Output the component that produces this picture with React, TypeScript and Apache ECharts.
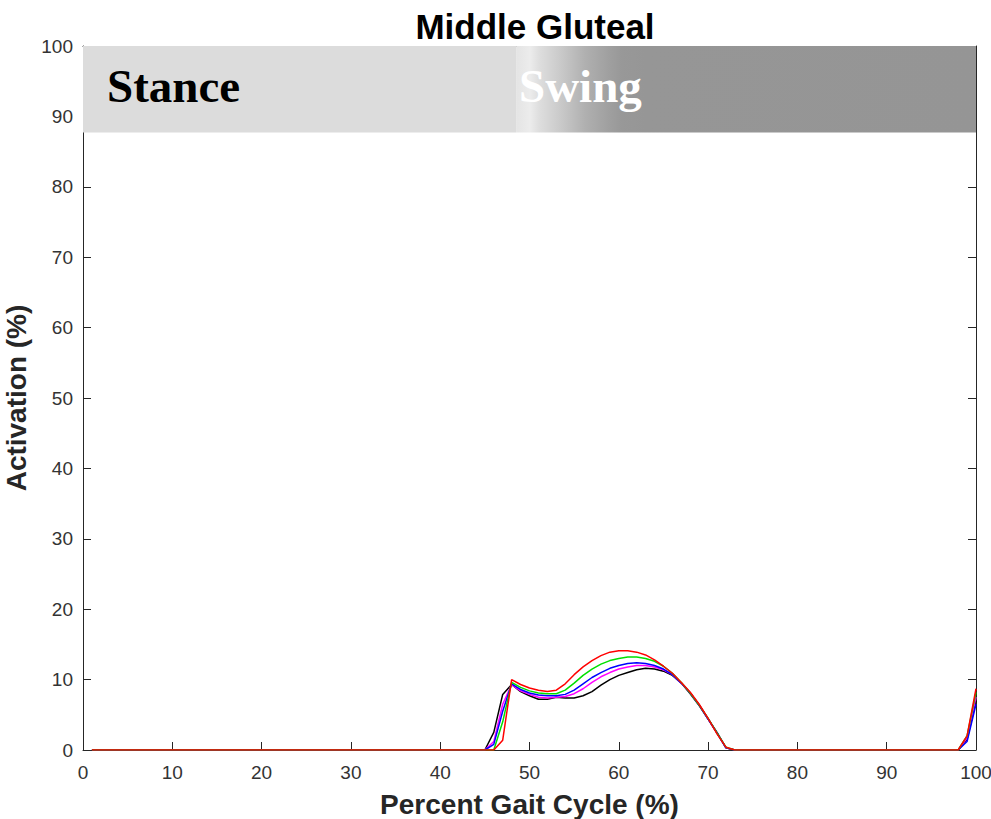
import React, { useEffect, useRef } from "react";
import * as echarts from "echarts";

const xTicks = [0, 10, 20, 30, 40, 50, 60, 70, 80, 90, 100];
const startX = 1;
const burstX = [44, 45, 46, 47, 48, 49, 50, 51, 52, 53, 54, 55, 56, 57, 58, 59, 60, 61, 62, 63, 64, 65, 66, 67, 68, 69, 70, 71, 72, 73];
const tailX = [98, 99, 100];

const blackBurst = [0, 0, 2.5, 7.9, 9.3, 8.3, 7.7, 7.2, 7.2, 7.5, 7.4, 7.4, 7.7, 8.3, 9.2, 10.0, 10.6, 11.0, 11.4, 11.6, 11.5, 11.2, 10.6, 9.5, 8.0, 6.3, 4.4, 2.5, 0.3, 0];
const magentaBurst = [0, 0, 1.2, 6.5, 9.3, 8.4, 7.9, 7.5, 7.4, 7.5, 7.6, 8.0, 8.7, 9.6, 10.4, 11.0, 11.5, 11.8, 12.0, 12.0, 11.8, 11.4, 10.7, 9.5, 8.1, 6.4, 4.4, 2.4, 0.3, 0];
const blueBurst = [0, 0, 0.8, 5.5, 9.4, 8.6, 8.1, 7.8, 7.7, 7.7, 7.9, 8.5, 9.4, 10.3, 11.0, 11.6, 12.0, 12.3, 12.4, 12.3, 12.0, 11.5, 10.7, 9.5, 8.1, 6.4, 4.4, 2.4, 0.3, 0];
const greenBurst = [0, 0, 0, 4.0, 9.6, 8.9, 8.4, 8.1, 8.0, 8.0, 8.5, 9.5, 10.6, 11.5, 12.2, 12.7, 13.0, 13.2, 13.2, 13.0, 12.6, 11.9, 10.9, 9.6, 8.1, 6.4, 4.5, 2.4, 0.4, 0];
const redBurst = [0, 0, 0, 1.4, 10.0, 9.3, 8.8, 8.5, 8.3, 8.5, 9.4, 10.7, 11.8, 12.7, 13.4, 13.9, 14.1, 14.1, 13.9, 13.5, 12.8, 11.9, 10.9, 9.6, 8.2, 6.5, 4.5, 2.3, 0.4, 0];

const blackTail = [0, 1.5, 7.0];
const magentaTail = [0, 1.7, 7.5];
const blueTail = [0, 1.2, 6.5];
const greenTail = [0, 2.0, 8.2];
const redTail = [0, 2.0, 8.7];

const seriesNames = ["Black", "Magenta", "Blue", "Green", "Red"];
const seriesColors = ["#000000", "#ff00ff", "#0000ff", "#00e000", "#ff0000"];
const burstValues = [blackBurst, magentaBurst, blueBurst, greenBurst, redBurst];
const tailValues = [blackTail, magentaTail, blueTail, greenTail, redTail];

const bandBottom = 87.7;
const stanceEnd = 48.5;

function buildPoints(burst: number[], tail: number[]) {
  const pts: number[][] = [[startX, 0]];
  burstX.forEach((x, i) => pts.push([x, burst[i]]));
  tailX.forEach((x, i) => pts.push([x, tail[i]]));
  return pts;
}

export default function App() {
  const ref = useRef<HTMLDivElement>(null);
  useEffect(() => {
    if (!ref.current) return;
    const chart = echarts.init(ref.current, null, { renderer: "svg" });
    const axisColor = "#262626";
    const tickLabelColor = "#333333";
    const fontFamily = "'Liberation Sans', Arial, sans-serif";
    const series: any[] = seriesNames.map((name, i) => ({
      name,
      type: "line",
      xAxisIndex: 0,
      yAxisIndex: 0,
      data: buildPoints(burstValues[i], tailValues[i]),
      showSymbol: false,
      symbol: "none",
      lineStyle: { color: seriesColors[i], width: 1.5 },
      itemStyle: { color: seriesColors[i] },
      z: 3 + i,
    }));
    series.unshift({
      name: "phases",
      type: "line",
      data: [],
      silent: true,
      markArea: {
        silent: true,
        data: [
          [
            { xAxis: 0, yAxis: bandBottom, itemStyle: { color: "#dcdcdc" } },
            { xAxis: stanceEnd, yAxis: 100 },
          ],
          [
            {
              xAxis: stanceEnd,
              yAxis: bandBottom,
              itemStyle: {
                color: {
                  type: "linear",
                  x: 0,
                  y: 0,
                  x2: 1,
                  y2: 0,
                  colorStops: [
                    { offset: 0, color: "#e4e4e4" },
                    { offset: 0.03, color: "#ececec" },
                    { offset: 0.05, color: "#dedede" },
                    { offset: 0.1, color: "#c8c8c8" },
                    { offset: 0.15, color: "#b0b0b0" },
                    { offset: 0.2, color: "#a0a0a0" },
                    { offset: 0.23, color: "#989898" },
                    { offset: 0.28, color: "#969696" },
                    { offset: 1, color: "#959595" },
                  ],
                },
              },
            },
            { xAxis: 100, yAxis: 100 },
          ],
        ],
      },
    });
    chart.setOption({
      animation: false,
      backgroundColor: "#ffffff",
      title: {
        text: "Middle Gluteal",
        left: 530,
        top: 3,
        textAlign: "center",
        textStyle: { fontFamily, fontWeight: "bold", fontSize: 35, color: "#000000", lineHeight: 36 },
      },
      grid: { left: 83, right: 15, top: 46, bottom: 69, containLabel: false, outerBoundsMode: "none" },
      xAxis: [
        {
          type: "value",
          min: 0,
          max: 100,
          interval: 10,
          position: "bottom",
          name: "Percent Gait Cycle (%)",
          nameLocation: "middle",
          nameGap: 54,
          nameTextStyle: { fontFamily, fontWeight: "bold", fontSize: 28, color: axisColor, verticalAlign: "middle" },
          axisLine: { show: true, onZero: false, lineStyle: { color: axisColor, width: 1 } },
          axisTick: { show: true, inside: true, length: 8, lineStyle: { color: axisColor } },
          axisLabel: { show: true, margin: 13, fontFamily, fontSize: 19, color: tickLabelColor, customValues: xTicks },
          splitLine: { show: false },
        },
        {
          type: "value",
          min: 0,
          max: 100,
          interval: 10,
          position: "top",
          axisLine: { show: true, onZero: false, lineStyle: { color: axisColor, width: 1 } },
          axisTick: { show: true, inside: true, length: 8, lineStyle: { color: axisColor } },
          axisLabel: { show: false },
          splitLine: { show: false },
        },
      ],
      yAxis: [
        {
          type: "value",
          min: 0,
          max: 100,
          interval: 10,
          position: "left",
          name: "Activation (%)",
          nameLocation: "middle",
          nameGap: 67,
          nameRotate: 90,
          nameTextStyle: { fontFamily, fontWeight: "bold", fontSize: 28, color: axisColor, verticalAlign: "middle" },
          axisLine: { show: true, onZero: false, lineStyle: { color: axisColor, width: 1 } },
          axisTick: { show: true, inside: true, length: 8, lineStyle: { color: axisColor } },
          axisLabel: { show: true, margin: 10, fontFamily, fontSize: 19, color: tickLabelColor },
          splitLine: { show: false },
        },
        {
          type: "value",
          min: 0,
          max: 100,
          interval: 10,
          position: "right",
          axisLine: { show: true, onZero: false, lineStyle: { color: axisColor, width: 1 } },
          axisTick: { show: true, inside: true, length: 8, lineStyle: { color: axisColor } },
          axisLabel: { show: false },
          splitLine: { show: false },
        },
      ],
      graphic: [
        {
          type: "text",
          x: 107,
          y: 86,
          z: 10,
          style: {
            text: "Stance",
            font: "bold 47px 'Liberation Serif', 'Times New Roman', serif",
            fill: "#000000",
            verticalAlign: "middle",
          },
        },
        {
          type: "text",
          x: 519,
          y: 86,
          z: 10,
          style: {
            text: "Swing",
            font: "bold 47px 'Liberation Serif', 'Times New Roman', serif",
            fill: "#ffffff",
            verticalAlign: "middle",
          },
        },
      ],
      series,
    });
    return () => chart.dispose();
  }, []);
  return (
    <div
      ref={ref}
      style={{ position: "absolute", left: 0, top: 0, width: 991, height: 819 }}
    />
  );
}
